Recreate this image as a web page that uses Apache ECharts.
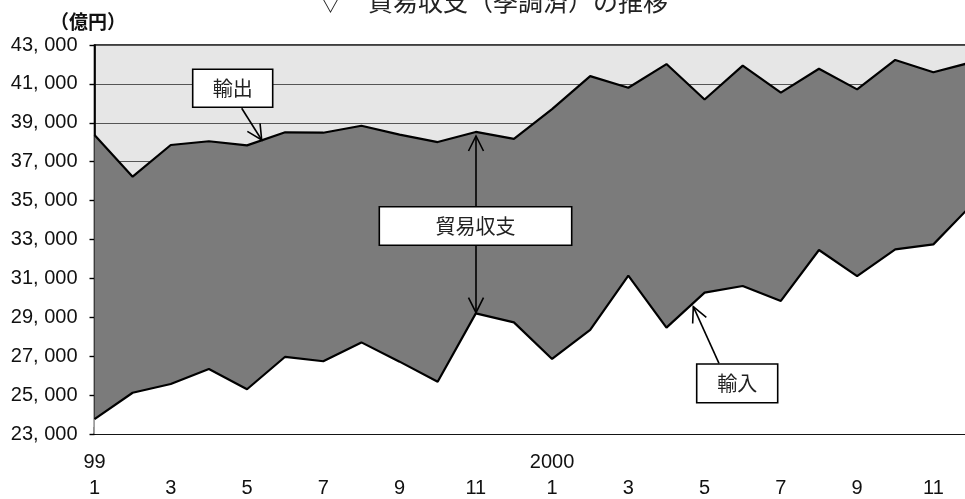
<!DOCTYPE html>
<html><head><meta charset="utf-8">
<script src="https://cdn.jsdelivr.net/npm/echarts@6/dist/echarts.min.js"></script>
<style>html,body{margin:0;padding:0;background:#fff}#c{width:965px;height:499px}</style>
</head><body><div id="c"></div>
<script>
// ---- data ----
const yearMarks = ['99','','','','','','','','','','','','2000','','','','','','','','','','',''];
const monthNums = [1,2,3,4,5,6,7,8,9,10,11,12,1,2,3,4,5,6,7,8,9,10,11,12];
const exportsData = [38370, 36230, 37860, 38050, 37840, 38510, 38490, 38850, 38390, 38010, 38530, 38170,
                     39700, 41400, 40800, 42020, 40200, 41940, 40550, 41780, 40720, 42230, 41600, 42110];
const importsData = [23760, 25120, 25570, 26340, 25300, 26970, 26740, 27710, 26720, 25690, 29200, 28740,
                     26860, 28350, 31140, 28470, 30270, 30610, 29840, 32460, 31120, 32490, 32750, 34770];
const yMin = 23000, yMax = 43000, yStep = 2000;
const titleText = '▽　貿易収支（季調済）の推移';
const unitText = '（億円）';
const labelExport = '輸出', labelImport = '輸入', labelBalance = '貿易収支';

const categories = monthNums.map((m, i) => (yearMarks[i] ? yearMarks[i] : '') + '/' + m + '#' + i);

function fmtNum(v) {
  const s = String(v);
  return s.slice(0, s.length - 3) + ', ' + s.slice(s.length - 3);
}

function arrowHead(tip, from, len, spread) {
  const dx = tip[0] - from[0], dy = tip[1] - from[1];
  const d = Math.sqrt(dx * dx + dy * dy);
  const ux = dx / d, uy = dy / d;
  const bx = tip[0] - ux * len, by = tip[1] - uy * len;
  const px = -uy * spread, py = ux * spread;
  return [[bx + px, by + py], tip, [bx - px, by - py]];
}
function arrow(from, to, both) {
  const els = [
    { type: 'line', z: 100, shape: { x1: from[0], y1: from[1], x2: to[0], y2: to[1] }, style: { stroke: '#000', lineWidth: 1.6 } },
    { type: 'polyline', z: 100, shape: { points: arrowHead(to, from, 15, 7.5) }, style: { stroke: '#000', lineWidth: 1.6, fill: null } }
  ];
  if (both) els.push({ type: 'polyline', z: 100, shape: { points: arrowHead(from, to, 15, 7.5) }, style: { stroke: '#000', lineWidth: 1.6, fill: null } });
  return els;
}
function box(x, y, w, h, text) {
  return [
    { type: 'rect', z: 110, shape: { x: x, y: y, width: w, height: h }, style: { fill: '#fff', stroke: '#000', lineWidth: 1.6 } },
    { type: 'text', z: 111, x: x + w / 2, y: y + h / 2, style: { text: text, fill: '#222', font: '20px "Noto Sans CJK JP"', textAlign: 'center', textVerticalAlign: 'middle' } }
  ];
}

const chart = echarts.init(document.getElementById('c'), null, { renderer: 'canvas' });
const graphics = [].concat(
  [{ type: 'text', z: 100, x: 493, y: 1, style: { text: titleText, fill: '#222', font: '25px "Noto Sans CJK JP"', textAlign: 'center', textVerticalAlign: 'middle' } },
   { type: 'text', z: 100, x: 88, y: 22, style: { text: unitText, fill: '#111', font: 'bold 19px "Noto Sans CJK JP"', textAlign: 'center', textVerticalAlign: 'middle' } }],
  arrow([476, 136], [476, 312.7], true),
  arrow([241.7, 108.3], [261.7, 140], false),
  arrow([719, 363.3], [693.3, 306.7], false),
  box(192.7, 69.3, 80, 38, labelExport),
  box(379.3, 206.7, 192.4, 38.6, labelBalance),
  box(696.7, 364, 81, 38.7, labelImport)
);

chart.setOption({
  animation: false,
  backgroundColor: '#fff',
  grid: { left: 94.5, top: 45, width: 877, height: 389, outerBoundsMode: 'none', containLabel: false,
          show: true, backgroundColor: '#e6e6e6', borderColor: '#000', borderWidth: 1.6 },
  xAxis: {
    type: 'category', boundaryGap: false, data: categories,
    axisLine: { lineStyle: { color: '#000', width: 1.6 } },
    axisTick: { inside: true, length: 7, interval: 0, lineStyle: { color: '#000', width: 1.4 } },
    axisLabel: {
      interval: 0, margin: 16, fontSize: 20, lineHeight: 25.5, color: '#111', fontFamily: 'Liberation Sans',
      formatter: function (v, i) {
        const m = monthNums[i];
        if (m % 2 === 0) return '';
        return (yearMarks[i] || '') + '\n' + m;
      }
    },
    splitLine: { show: false }
  },
  yAxis: {
    type: 'value', min: yMin, max: yMax, interval: yStep,
    axisLine: { show: true, lineStyle: { color: '#000', width: 1.6 } },
    axisTick: { show: true, length: 5, lineStyle: { color: '#000', width: 1.4 } },
    axisLabel: { margin: 17, fontSize: 20, color: '#111', fontFamily: 'Liberation Sans', formatter: fmtNum },
    splitLine: { show: true, lineStyle: { color: '#555', width: 1.2 } }
  },
  series: [
    { name: labelExport, type: 'line', data: exportsData, symbol: 'none', z: 3,
      lineStyle: { color: '#000', width: 2.2 }, areaStyle: { color: '#7b7b7b', opacity: 1, origin: 'start' } },
    { name: labelImport, type: 'line', data: importsData, symbol: 'none', z: 4,
      lineStyle: { color: '#000', width: 2.2 }, areaStyle: { color: '#ffffff', opacity: 1, origin: 'start' } }
  ],
  graphic: { elements: graphics }
});
</script></body></html>
